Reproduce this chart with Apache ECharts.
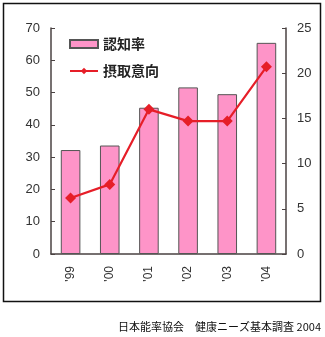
<!DOCTYPE html>
<html><head><meta charset="utf-8">
<script src="https://cdn.jsdelivr.net/npm/echarts@6/dist/echarts.min.js"></script>
<style>html,body{margin:0;padding:0;background:#fff}#c{width:325px;height:337px}</style>
</head><body><div id="c"></div>
<script>
const categories = ["'99", "'00", "'01", "'02", "'03", "'04"];
const awareness = [32.2, 33.6, 45.3, 51.6, 49.5, 65.4];
const intention = [6.2, 7.7, 16.0, 14.7, 14.7, 20.7];
const leftTicks = [0, 10, 20, 30, 40, 50, 60, 70];
const rightTicks = [0, 5, 10, 15, 20, 25];
const seriesNames = ['認知率', '摂取意向'];
const source = '日本能率協会　健康ニーズ基本調査 2004';

const chart = echarts.init(document.getElementById('c'), null, {renderer: 'canvas'});
const axisCol = '#4a4242';
const font = 'Arial, "Liberation Sans", "Noto Sans CJK JP", sans-serif';
chart.setOption({
  animation: false,
  grid: {left: 51, right: 39, top: 28, bottom: 83, containLabel: false},
  legend: {
    orient: 'vertical', left: 64, top: 32, itemGap: 13,
    itemWidth: 28, itemHeight: 8,
    textStyle: {fontSize: 14, fontWeight: 'bold', color: '#222', fontFamily: '"Noto Sans CJK JP", sans-serif'},
    data: [{name: seriesNames[0], icon: 'rect'}, {name: seriesNames[1]}]
  },
  xAxis: {
    type: 'category', data: categories,
    axisLine: {lineStyle: {color: axisCol, width: 1.5}},
    axisTick: {inside: true, length: 4, lineStyle: {color: axisCol}},
    axisLabel: {rotate: 90, fontSize: 12, color: '#333', margin: 12, fontFamily: font}
  },
  yAxis: [{
    type: 'value', min: leftTicks[0], max: leftTicks[leftTicks.length - 1], interval: 10,
    axisLine: {show: true, lineStyle: {color: axisCol, width: 1.5}},
    axisTick: {show: true, inside: true, length: 4, lineStyle: {color: axisCol}},
    splitLine: {show: false},
    axisLabel: {fontSize: 13, color: '#333', margin: 11, fontFamily: font}
  }, {
    type: 'value', min: rightTicks[0], max: rightTicks[rightTicks.length - 1], interval: 5,
    position: 'right',
    axisLine: {show: true, lineStyle: {color: axisCol, width: 1.5}},
    axisTick: {show: true, inside: true, length: 4, lineStyle: {color: axisCol}},
    splitLine: {show: false},
    axisLabel: {fontSize: 13, color: '#333', margin: 11, fontFamily: font}
  }],
  series: [{
    name: seriesNames[0], type: 'bar', data: awareness, yAxisIndex: 0,
    barWidth: '50%',
    itemStyle: {color: '#fe94c8', borderColor: '#555', borderWidth: 1}
  }, {
    name: seriesNames[1], type: 'line', data: intention, yAxisIndex: 1,
    symbol: 'diamond', symbolSize: 11,
    lineStyle: {color: '#e61e28', width: 2.2},
    itemStyle: {color: '#e61e28'}
  }],
  graphic: [{
    type: 'rect', shape: {x: 3.5, y: 3.5, width: 317, height: 298},
    style: {fill: 'none', stroke: '#111', lineWidth: 1.5}, z: -1
  }, {
    type: 'text', right: 4, top: 321,
    style: {text: source, fontSize: 11, fill: '#111', fontFamily: '"Noto Sans CJK JP", sans-serif'}
  }]
});
</script></body></html>
